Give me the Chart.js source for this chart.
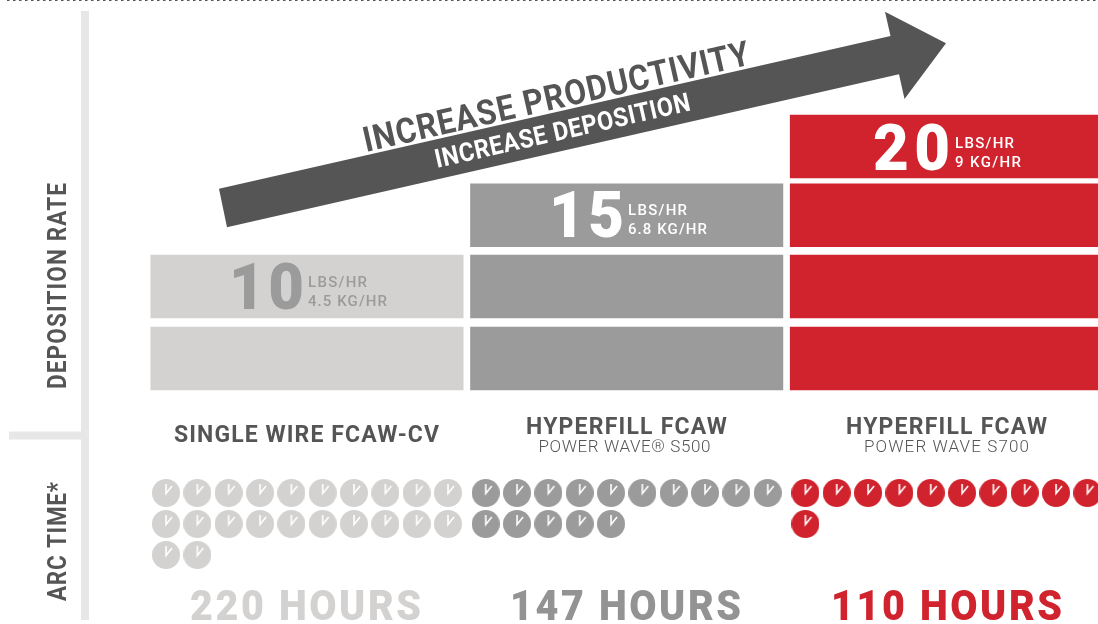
<!DOCTYPE html>
<html>
<head>
<meta charset="utf-8">
<style>html,body{margin:0;padding:0;background:#fff;overflow:hidden}canvas{display:block}</style>
<script src="https://cdn.jsdelivr.net/npm/chart.js@4"></script>
</head>
<body>
<canvas id="c" width="1098" height="624"></canvas>
<script>
// ---- data ----
const categories = ['SINGLE WIRE FCAW-CV', 'HYPERFILL FCAW', 'HYPERFILL FCAW'];
const subtitles = ['', 'POWER WAVE® S500', 'POWER WAVE S700'];
const ratesLbs = [10, 15, 20];
const ratesKg = ['4.5', '6.8', '9'];
const hours = [220, 147, 110];
const clockCounts = [22, 15, 11];
const segmentStart = [0, 5.24, 10.42, 15.42];
const segmentEnd = [4.58, 9.82, 15, 20];
const barColors = ['#d3d2d0', '#9a9b9a', '#d1232d'];
const hourColors = ['#d3d2d0', '#929392', '#d1232d'];
const valueColors = ['#9a9b9a', '#ffffff', '#ffffff'];
const DARK = '#555555';
const AXIS = '#e6e7e6';
const CLOCKS_PER_ROW = 10;
const COL_STEP = 0.098;

function makeClock(color) {
  const c = document.createElement('canvas');
  c.width = 28; c.height = 28;
  const g = c.getContext('2d');
  g.fillStyle = color;
  g.beginPath(); g.arc(14, 14, 14, 0, Math.PI * 2); g.fill();
  g.strokeStyle = '#fff'; g.lineWidth = 1.6; g.lineJoin = 'miter';
  g.beginPath(); g.moveTo(14, 5); g.lineTo(14, 14.5); g.lineTo(20, 7); g.stroke();
  return c;
}

const barSets = segmentStart.map((s, k) => ({
  type: 'bar',
  label: 'segment ' + (k + 1),
  grouped: false,
  barThickness: 312.4,
  data: categories.map((_, i) => ({ x: i, y: [s, segmentEnd[k]] })).filter(d => ratesLbs[d.x] >= segmentEnd[k]),
  backgroundColor: ctx => barColors[ctx.raw ? ctx.raw.x : 0],
  borderWidth: 0
}));

const clockSets = clockCounts.map((n, i) => ({
  type: 'scatter',
  label: 'clocks ' + hours[i],
  yAxisID: 'yClock',
  pointStyle: makeClock(barColors[i]),
  pointRadius: 14,
  pointHoverRadius: 14,
  data: Array.from({ length: n }, (_, k) => ({
    x: i + ((k % CLOCKS_PER_ROW) - (CLOCKS_PER_ROW - 1) / 2) * COL_STEP,
    y: Math.floor(k / CLOCKS_PER_ROW)
  }))
}));

function fit(ctx, text, x, y, font, color, width, sx = 1) {
  ctx.save();
  ctx.translate(x, y); ctx.scale(sx, 1);
  ctx.font = font; ctx.fillStyle = color;
  ctx.letterSpacing = '0px';
  const w = ctx.measureText(text).width;
  ctx.letterSpacing = ((width / sx - w) / (text.length - 1)) + 'px';
  ctx.textAlign = 'left'; ctx.textBaseline = 'alphabetic';
  ctx.fillText(text, 0, 0);
  ctx.restore();
}
function fitRot(ctx, text, x, y, angle, font, color, width, sx = 1) {
  ctx.save(); ctx.translate(x, y); ctx.rotate(angle);
  fit(ctx, text, 0, 0, font, color, width, sx);
  ctx.restore();
}

const decor = {
  id: 'decor',
  beforeDatasetsDraw(chart) {
    const ctx = chart.ctx;
    ctx.save();
    ctx.fillStyle = '#fff'; ctx.fillRect(0, 0, 1098, 624);
    // dotted top rule
    ctx.strokeStyle = '#555'; ctx.lineWidth = 1.2; ctx.setLineDash([2.5, 3.5]);
    ctx.beginPath(); ctx.moveTo(7, 0.5); ctx.lineTo(1098, 0.5); ctx.stroke();
    ctx.setLineDash([]);
    // axis rules
    ctx.fillStyle = AXIS;
    ctx.fillRect(81, 11, 8, 609);
    ctx.fillRect(9, 431.5, 72, 8);
    // arrow
    ctx.fillStyle = DARK;
    ctx.beginPath();
    [[219, 188.7], [890.5, 36], [885, 11.7], [946, 43.3], [904.5, 99], [899, 74.3], [227, 227.3]]
      .forEach((p, i) => i ? ctx.lineTo(p[0], p[1]) : ctx.moveTo(p[0], p[1]));
    ctx.closePath(); ctx.fill();
    ctx.restore();
  },
  afterDatasetsDraw(chart) {
    const ctx = chart.ctx, X = chart.scales.x;
    ctx.save();
    const a = -12.8 * Math.PI / 180;
    fitRot(ctx, 'DEPOSITION RATE', 66, 389, -Math.PI / 2, '700 25px Roboto', DARK, 206, 0.9);
    fitRot(ctx, 'ARC TIME*', 66, 601, -Math.PI / 2, '700 25px Roboto', DARK, 119, 0.9);
    fitRot(ctx, 'INCREASE PRODUCTIVITY', 366, 152, a, '700 35px Roboto', DARK, 395, 0.9);
    fitRot(ctx, 'INCREASE DEPOSITION', 437, 168, a, '700 26px Roboto', '#ffffff', 261, 0.9);
    // labels per column
    const numX = [229, 549, 873], numY = [309, 237, 170], smallX = [308, 628, 955];
    const numW = [75, 75, 77], lbsW = [59, 59, 59], kgW = [79, 79, 66];
    const subX = [0, 538.5, 864], subW = [0, 172, 165], hourX = [190, 510, 831];
    categories.forEach((name, i) => {
      fit(ctx, String(ratesLbs[i]), numX[i], numY[i], '900 65px Roboto', valueColors[i], numW[i], 0.95);
      fit(ctx, 'LBS/HR', smallX[i], numY[i] - 22, '500 15px Roboto', valueColors[i], lbsW[i]);
      fit(ctx, ratesKg[i] + ' KG/HR', smallX[i], numY[i] - 3, '500 15px Roboto', valueColors[i], kgW[i]);
      const px = X.getPixelForValue(i);
      if (subtitles[i]) {
        fit(ctx, name, [0, 526, 846][i], 434, '700 23px Roboto', DARK, 201);
        fit(ctx, subtitles[i], subX[i], 452, '300 17px Roboto', DARK, subW[i]);
      } else {
        fit(ctx, name, 174, 442, '700 23px Roboto', DARK, 265);
      }
      fit(ctx, hours[i] + ' HOURS', hourX[i], 620, '900 42px Roboto', hourColors[i], 231, 0.94);
    });
    ctx.restore();
  }
};

new Chart(document.getElementById('c'), {
  type: 'bar',
  data: { datasets: [...barSets, ...clockSets] },
  plugins: [decor],
  options: {
    responsive: false,
    animation: false,
    events: [],
    layout: { padding: 0, autoPadding: false },
    plugins: { legend: { display: false }, tooltip: { enabled: false } },
    scales: {
      x: { type: 'linear', display: false, offset: false, min: -307 / 319.7, max: (1098 - 307) / 319.7 },
      y: { type: 'linear', display: false, min: -234 / 13.75, max: 390 / 13.75 },
      yClock: { type: 'linear', display: false, reverse: true, min: -493 / 31, max: 131 / 31 }
    }
  }
});
</script>
</body>
</html>
